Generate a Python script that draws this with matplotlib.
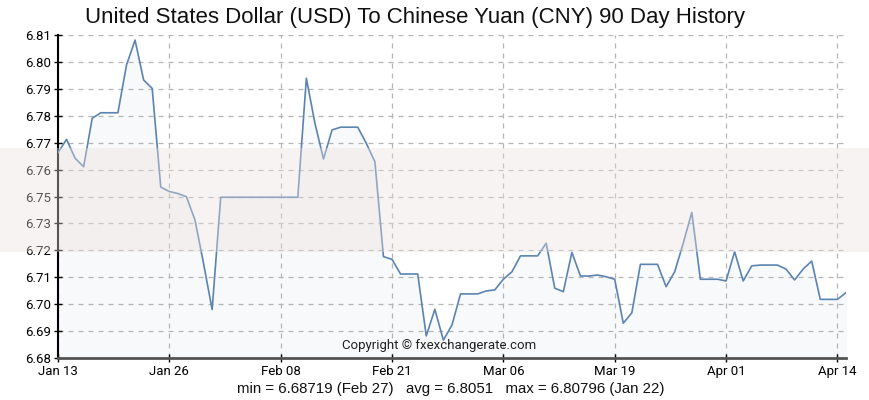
import numpy as np
import matplotlib.pyplot as plt
from matplotlib.patches import Rectangle

# daily USD/CNY rate, day 0 = Jan 13
rates = [6.7626, 6.7680, 6.7604, 6.7570, 6.7765, 6.7787, 6.7787, 6.7787, 6.7979, 6.80796,
         6.7919, 6.7885, 6.7488, 6.7470, 6.7462, 6.7449, 6.7355, 6.7180, 6.6995,
         6.7447, 6.7447, 6.7447, 6.7447, 6.7447, 6.7447, 6.7447, 6.7447, 6.7447, 6.7447,
         6.7926, 6.7745, 6.7601, 6.7718, 6.7729, 6.7729, 6.7729, 6.7664, 6.7590, 6.7208,
         6.7197, 6.7138, 6.7138, 6.7138, 6.6889, 6.6996, 6.68719, 6.6933, 6.7058, 6.7058,
         6.7058, 6.7070, 6.7074, 6.7117, 6.7147, 6.7211, 6.7211, 6.7211, 6.7262, 6.7081,
         6.7067, 6.7225, 6.7130, 6.7130, 6.7134, 6.7127, 6.7117, 6.6940, 6.6982, 6.7177,
         6.7177, 6.7177, 6.7087, 6.7147, 6.7262, 6.7386, 6.7117, 6.7117, 6.7117, 6.7110,
         6.7228, 6.7110, 6.7171, 6.7174, 6.7174, 6.7174, 6.7158, 6.7114, 6.7158, 6.7190,
         6.7036, 6.7036, 6.7036, 6.7063]
days = np.arange(len(rates))

x_tick_days = [0, 13, 26, 39, 52, 65, 78, 91]
x_tick_labels = ['Jan 13', 'Jan 26', 'Feb 08', 'Feb 21', 'Mar 06', 'Mar 19', 'Apr 01', 'Apr 14']
y_ticks = np.linspace(6.68, 6.81, 13)
y_tick_labels = ['6.68', '6.69', '6.70', '6.71', '6.72', '6.73', '6.75',
                 '6.76', '6.77', '6.78', '6.79', '6.80', '6.81']

stats_text = 'min = 6.68719 (Feb 27)   avg = 6.8051   max = 6.80796 (Jan 22)'
title = 'United States Dollar (USD) To Chinese Yuan (CNY) 90 Day History'

fig = plt.figure(figsize=(8.69, 4.0), dpi=100)
ax = fig.add_axes([0.0667, 0.105, 0.9068, 0.8075])

ax.fill_between(days, rates, 6.68, color='#f8f9fb', zorder=1)
ax.plot(days, rates, color='#5b84b1', lw=1.2, zorder=3)

ax.set_xlim(0, len(rates) - 1)
ax.set_ylim(6.68, 6.81)
ax.set_xticks(x_tick_days)
ax.set_xticklabels(x_tick_labels, family='Roboto', fontsize=9.5)
ax.set_yticks(y_ticks)
ax.set_yticklabels(y_tick_labels, family='Roboto', fontsize=9.5)

ax.grid(True, color='#b5b5b5', ls=(0, (4, 4)), lw=0.9, zorder=0)
for s in ['top', 'right']:
    ax.spines[s].set_visible(False)
ax.spines['left'].set_color('black')
ax.spines['left'].set_linewidth(1.5)
ax.spines['bottom'].set_color('#555555')
ax.spines['bottom'].set_linewidth(2)
ax.tick_params(axis='both', direction='inout', length=6, width=1, color='black', pad=2)

ax.text(0.4835, 0.04, 'Copyright © fxexchangerate.com', transform=ax.transAxes,
        ha='center', va='center', family='Roboto', fontsize=9.5, color='#222222')

fig.text(0.478, 0.955, title, ha='center', va='center', family='Liberation Sans',
         fontsize=16, color='#111111')
fig.text(0.519, 0.027, stats_text, ha='center', va='center', family='Liberation Sans',
         fontsize=10.8, color='#111111')

# translucent overlay band from the page
fig.patches.append(Rectangle((0, 0.37), 1, 0.26, transform=fig.transFigure,
                             facecolor=(0.92, 0.88, 0.87), alpha=0.38, zorder=10,
                             edgecolor='none'))

plt.savefig('out.png', dpi=100)
